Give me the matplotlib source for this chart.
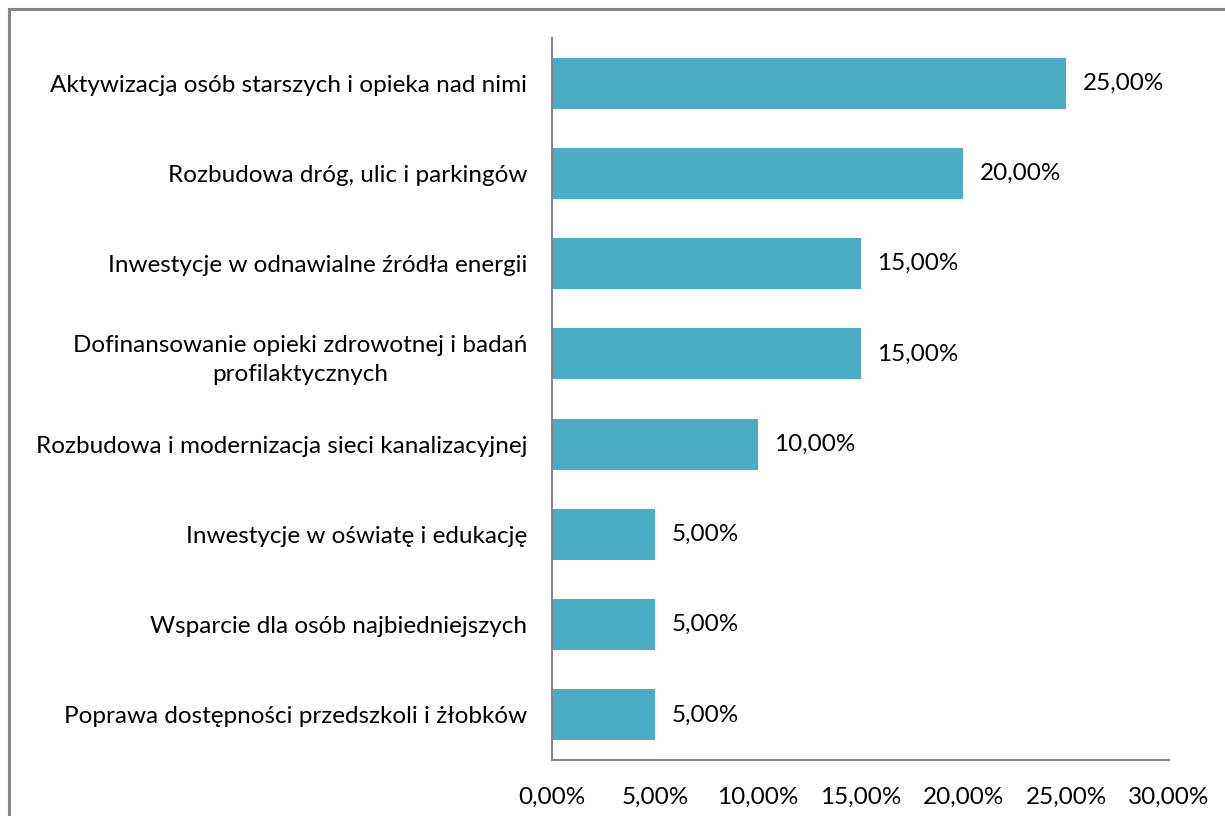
import matplotlib.pyplot as plt
from matplotlib.patches import Rectangle

categories = [
    "Aktywizacja osób starszych i opieka nad nimi",
    "Rozbudowa dróg, ulic i parkingów",
    "Inwestycje w odnawialne źródła energii",
    "Dofinansowanie opieki zdrowotnej i badań\nprofilaktycznych",
    "Rozbudowa i modernizacja sieci kanalizacyjnej",
    "Inwestycje w oświatę i edukację",
    "Wsparcie dla osób najbiedniejszych",
    "Poprawa dostępności przedszkoli i żłobków",
]
shares = [25.0, 20.0, 15.0, 15.0, 10.0, 5.0, 5.0, 5.0]
x_ticks = [0, 5, 10, 15, 20, 25, 30]

BAR_COLOR = "#4BACC6"
AXIS_COLOR = "#868686"
FS = 17.5

plt.rcParams["font.family"] = ["Lato", "DejaVu Sans"]

fig = plt.figure(figsize=(12.25, 8.16), dpi=100)
W, H = 1225, 816
ax = fig.add_axes([552 / W, 1 - 760 / H, 617 / W, 722 / H])

# chart frame, clipped at the right and bottom edges
fig.patches.append(Rectangle((9 / W, -0.1), 1.2, 1 - 9 / H + 0.1,
                             transform=fig.transFigure, fill=False,
                             edgecolor=AXIS_COLOR, linewidth=2.2))

y = list(range(len(categories)))
ax.barh(y, shares, height=0.565, color=BAR_COLOR)
for yi, v in zip(y, shares):
    ax.text(v + 0.8, yi, f"{v:.2f}%".replace(".", ","), va="center",
            ha="left", fontsize=FS, color="#000000")

ax.set_ylim(len(categories) - 0.5, -0.5)
ax.set_xlim(0, 30)
ax.set_yticks(y)
ax.set_yticklabels(categories, fontsize=FS, multialignment="center",
                   linespacing=1.5)
ax.set_xticks(x_ticks)
ax.set_xticklabels([f"{t:.2f}%".replace(".", ",") for t in x_ticks], fontsize=FS)
ax.tick_params(axis="both", length=0)
ax.tick_params(axis="y", pad=18)
ax.tick_params(axis="x", pad=19)

for side in ("top", "right"):
    ax.spines[side].set_visible(False)
for side in ("left", "bottom"):
    ax.spines[side].set_color(AXIS_COLOR)
    ax.spines[side].set_linewidth(1.5)

fig.savefig("out.png", dpi=100)
